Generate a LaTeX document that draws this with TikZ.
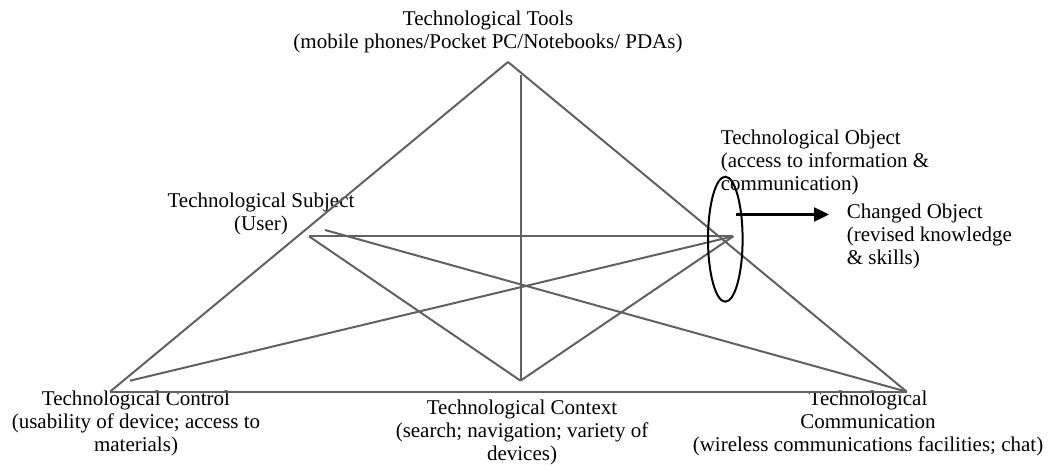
\documentclass[tikz,border=0pt]{standalone}
\usepackage{fontspec}
\setmainfont{Liberation Serif}
\usepackage{tikz}
\usetikzlibrary{
    arrows.meta,
    shapes.geometric,
    positioning
}
\tikzset{lbl/.style={inner sep=0pt, align=center, font=\fontsize{21}{23}\selectfont}}
\tikzset{lnk/.style={draw=black!62, line width=2pt}}

\begin{document}
\begin{tikzpicture}[x=1pt, y=-1pt]
                        \useasboundingbox (0, 0) rectangle (1053, 468);
                        \coordinate (apex) at (508, 62);
                        \coordinate (lc) at (110, 391.7);
                        \coordinate (rc) at (906.7, 391.7);
                        \coordinate (top) at (520.5, 75);
                        \coordinate (ctx) at (520.5, 380.7);
                        \coordinate (subj) at (309, 236.3);
                        \coordinate (subjb) at (325, 230);
                        \coordinate (obj) at (733.3, 236.3);
                        \coordinate (ctrl) at (130, 380.7);
                        \coordinate (astart) at (736, 214.5);
                        \coordinate (aend) at (829, 214.5);

                        \node[lbl, anchor=north] (tools) at (488, 10.5)
                            {Technological Tools\\(mobile phones/Pocket PC/Notebooks/ PDAs)};
                        \node[lbl, anchor=north] (subject) at (261, 192.4)
                            {Technological Subject\\(User)};
                        \node[lbl, anchor=north west, align=left] (object) at (720.7, 129.7)
                            {Technological Object\\(access to information \&\\communication)};
                        \node[lbl, anchor=north west, align=left] (changed) at (846.7, 204)
                            {Changed Object\\(revised knowledge\\\& skills)};
                        \node[lbl, anchor=north] (control) at (136, 390.7)
                            {Technological Control\\(usability of device; access to\\materials)};
                        \node[lbl, anchor=north] (context) at (522, 399.7)
                            {Technological Context\\(search; navigation; variety of\\devices)};
                        \node[lbl, anchor=north] (comm) at (868, 390.7)
                            {Technological\\Communication\\(wireless communications facilities; chat)};

                        \draw[lnk]
                        (apex) edge (lc)
                        (apex) edge (rc)
                        (lc) edge (rc)
                        (top) edge (ctx)
                        (subj) edge (obj)
                        (subj) edge (ctx)
                        (ctx) edge (obj)
                        (ctrl) edge (obj)
                        (subjb) edge (rc);

                        \node[ellipse, draw=black, line width=2pt, inner sep=0pt,
                            minimum width=34.6pt, minimum height=125pt] (oval) at (725.3, 239.2) {};
                        \draw[black, line width=2.4pt, -{Triangle[length=15pt, width=14pt]}] (astart) -- (aend);
\end{tikzpicture}
\end{document}
